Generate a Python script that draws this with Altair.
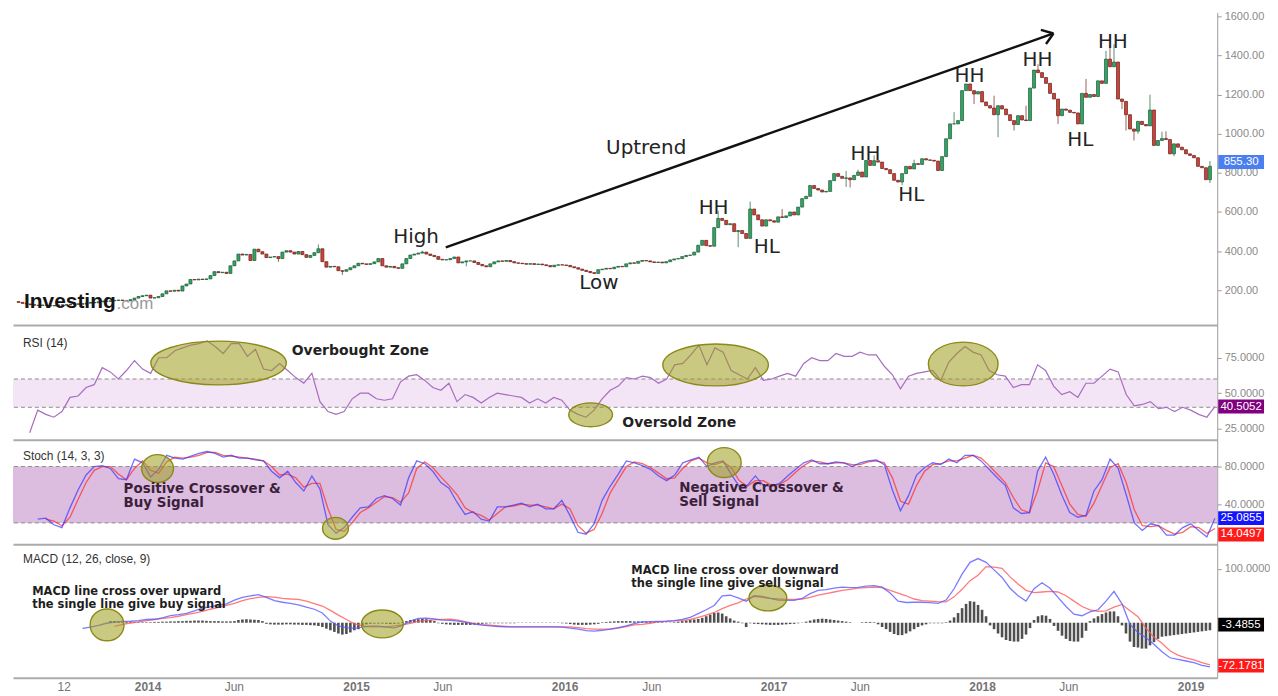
import altair as alt
import numpy as np
import pandas as pd

# ---------------- weekly candles ----------------
first_open = 142
close = [
 138,133,130,126,124,122,125,123,120,122,
 125,124,127,126,128,131,129,134,138,136,
 141,145,143,146,148,150,148,146,152,160,
 168,172,175,160,162,168,182,197,195,200,
 196,222,232,255,253,257,255,258,275,295,
 290,292,286,325,350,385,380,383,352,410,
 397,385,367,370,372,362,395,402,395,385,
 398,382,368,378,392,412,346,318,322,320,
 300,297,305,315,325,338,335,332,336,345,
 362,325,318,322,315,312,335,362,380,385,
 390,395,385,378,372,358,355,356,362,370,
 340,345,350,350,342,332,325,320,335,345,
 350,348,352,346,340,338,336,333,336,332,
 334,330,326,320,328,330,329,327,320,315,
 308,302,296,290,286,305,308,312,310,318,
 322,320,335,340,338,348,352,350,345,342,
 344,340,346,355,360,362,372,378,380,395,
 430,455,428,425,520,567,557,535,540,500,
 505,490,465,615,585,560,528,560,555,548,
 575,572,580,600,585,625,668,680,735,720,
 712,702,705,760,796,782,772,774,765,787,
 804,779,863,838,862,855,822,816,796,762,
 753,796,833,820,847,843,872,866,864,860,
 812,883,974,1050,1050,1067,1220,1254,1220,1203,
 1215,1162,1143,1131,1097,1143,1126,1097,1067,1047,
 1092,1070,1067,1233,1325,1312,1287,1257,1206,1177,
 1092,1126,1120,1109,1106,1050,1206,1186,1200,1190,
 1270,1257,1381,1342,1366,1177,1165,1097,1024,1013,
 1063,1047,1040,1121,940,965,975,970,897,948,
 931,918,897,889,877,833,826,765,833,
]
hi_idx = [75, 101, 175, 183, 191, 207, 210, 214, 224, 234, 244, 252, 255, 267, 272, 273, 274, 283, 286, 287, 298]
hi_val = [434, 402, 607, 653, 615, 810, 816, 889, 867, 1110, 1194, 1143, 1355, 1280, 1423, 1447, 1457, 1199, 1010, 1012, 860]
lo_idx = [65, 81, 112, 180, 207, 208, 221, 239, 245, 249, 260, 276, 277, 279, 280, 289, 298]
lo_val = [345, 278, 322, 420, 728, 725, 737, 1152, 982, 1016, 1050, 1126, 1016, 965, 999, 885, 748]

# ---------------- indicators (every second week) ----------------
N_ = None
rsi = [
 N_,N_,22,38,35,33,37,47,48,54,
 56,68,65,60,66,73,67,64,75,75,
 80,82,84,85,87,83,78,85,85,76,
 81,67,66,71,66,61,57,64,44,37,
 35,37,46,50,50,46,45,46,58,62,
 63,59,54,52,57,44,49,47,43,47,
 50,49,48,47,43,46,43,47,45,38,
 35,33,38,46,52,55,61,60,62,61,
 57,60,70,71,77,84,70,82,79,66,
 63,60,68,59,60,62,64,62,71,75,
 73,73,78,76,76,79,77,77,69,63,
 53,62,64,65,66,59,72,78,83,79,
 77,66,63,62,54,56,56,70,66,55,
 49,51,47,57,57,62,67,65,49,41,
 42,44,39,40,37,40,38,35,33,40.5,
]
stoch_k = [
 N_,N_,N_,24,25,18,15,36,55,71,
 80,81,78,67,66,88,84,69,77,92,
 89,88,91,94,96,94,90,92,89,89,
 87,86,75,68,75,63,54,70,56,18,
 9,15,26,36,37,46,49,46,39,68,
 86,83,75,63,57,42,29,32,24,22,
 37,37,39,41,37,40,35,35,44,28,
 10,8,19,44,59,72,86,84,81,77,
 70,65,71,84,87,90,80,84,86,72,
 59,60,70,60,59,62,70,77,84,87,
 83,83,85,84,80,84,86,87,82,55,
 33,49,71,79,84,82,88,84,92,92,
 86,77,68,60,36,30,31,75,90,72,
 50,31,26,28,54,66,88,78,50,20,
 12,19,17,7,7,15,19,12,5,25,
]
stoch_d = [
 N_,N_,N_,N_,24,22,17,26,45,63,
 76,80,80,72,66,78,86,76,73,85,
 90,89,90,92,95,95,92,91,90,89,
 88,86,80,71,72,68,58,62,62,35,
 13,11,20,31,36,42,48,47,42,52,
 78,85,79,69,60,50,36,31,28,23,
 30,37,38,40,39,39,37,35,40,35,
 17,9,13,30,52,66,80,85,83,79,
 73,67,68,78,86,89,84,82,85,79,
 65,59,65,65,60,61,66,74,81,86,
 85,83,84,84,82,82,85,86,84,68,
 43,40,60,75,82,83,86,86,89,92,
 89,81,72,63,47,34,31,54,84,80,
 60,40,29,27,41,60,79,83,63,34,
 17,16,17,12,8,10,16,15,9,14,
]
macd = [
 N_,N_,N_,N_,N_,N_,N_,N_,-10.5,-8,
 -5,-1,1,2.5,2.7,4,6,6.4,9,13,
 15,17.5,22,27,30,32,35,42,47,50,
 52,47,41,38,36,33,29,25,18,3,
 -6,-9,-10.5,-8,-6.5,-6.5,-8,-9.5,-5,3,
 8,8.5,7,5,4.5,3,0.5,-2.5,-4.5,-6,
 -7,-7.8,-7.8,-7.8,-7.8,-7.8,-7.8,-7.8,-8,-10,
 -12,-14.5,-15.5,-14,-12,-9,-6,-1.5,1.5,2,
 2.5,3,4,6,10,17,24,32,50,51,
 46,40,50,49,45,42,41.5,41.5,45,54,
 60,61.5,64,66,65,65.5,68,69,66,55,
 40,37.5,38,38,37.2,36,42,63,90,112,
 119,112,98,84,64,50,40,63,74,64,
 47,30,16,13,20,24,40,58,35,-3,
 -18,-28,-40,-54,-65,-68,-71,-74,-79,-82,
]
signal = [
 N_,N_,N_,N_,N_,N_,N_,N_,N_,N_,
 N_,N_,-7,-3,-0.5,1.5,4,6,8,9.5,
 12,15,18,21,25,28.5,32,36,41,44.5,
 47,48.5,47.5,45,44,43.5,40,35.5,31,23,
 14,6,-2,-6,-7.8,-7.8,-7.8,-6,-4,-1,
 2.5,4.5,5.5,6.3,6.4,5,1.5,-1.5,-3.5,-4.7,
 -6,-7,-7.8,-7.8,-7.8,-7.8,-7.8,-7.8,-7.8,-7.8,
 -9,-11,-12,-12,-12,-10,-7,-4,-3,-1,
 1.5,2.5,3.5,4.3,6,10,14,19,26,32,
 37,44,49,47,45,44,43.3,43.3,44,47,
 51,54,57,60,62,64,65,66,65,60,
 55,50,44,41,40,39,38.5,48,62,78,
 88,104,103,101,85,72,60,56,57,58,
 57,50,40,30,24,21,22,29,34,22,
 11,-10,-27,-38,-52,-60,-65,-69,-74,-78,
]
# weekly histogram
hist = [
 N_,N_,N_,N_,N_,N_,N_,N_,N_,N_,
 N_,N_,N_,N_,N_,N_,N_,N_,N_,N_,
 N_,N_,N_,3,3,2.5,2,1.5,1.5,1,
 1,1,1,1,1.5,1.5,2,2,2.5,2.5,
 3,3,3.5,3.5,4,4,4,3.5,3,3,
 3,2.5,2.5,2.5,3,5,6,6.5,6,5.5,
 5,3,-2,-3,-3.5,-3.5,-3.5,-3,-3,-3.5,
 -3.5,-4,-4,-4.5,-5,-6,-8,-11,-14,-17,
 -20,-22,-21,-18,-14,-12,-6,-3,-2,-1.5,
 -1.5,-1.5,-2,-2.5,-2,-1.5,1,3,5,6,
 6.5,7,6.5,5,3,-1,-2,-3,-3.5,-4,
 -4,-4,-4,-4,-3.5,-3,-2,-1.5,-1,-1,
 -1,-1,-1,-1,-1,-0.5,-0.5,-0.5,-0.5,-0.5,
 -0.5,-0.5,-0.5,-0.5,-0.5,-0.5,-1,-1.5,-2.5,-3.5,
 -4,-4,-4,-3.5,-3,-2,1,1.5,2,2.5,
 3,3,3,3,2.5,2.5,2.5,2,2,1.5,
 1,1,0.5,0.5,1,2,3,4,5,6,
 7,9,12,15,18,19,17,12,8,4,
 2,-1,-8,-1,-2,-2.5,-3,-3.5,-4,-4,
 -4,-3.5,-3,-2.5,-2,-1,0.5,2,4,6,
 7,7.5,7,6,5,4,3,2,1,0,
 0,1,1.5,1.5,1,-3,-8,-12,-17,-21,
 -23,-23,-20,-16,-12,-8,-5,-3,-1,-1,
 -1,-1,1,4,10,18,27,35,40,39,
 33,24,12,-5,-12,-20,-27,-32,-34,-35,
 -35,-30,-22,-10,5,12,14,13,7,-6,
 -15,-24,-30,-34,-35,-35,-28,-15,3,8,
 12,16,19,21,21,12,-5,-20,-35,-45,
 -46,-48,-48,-42,-36,-30,-26,-25,-24,-23,
 -22,-21,-20,-19,-18,-17,-16,-15,-14,
]

# last-value tags
price_last_label = ["855.30"]; price_last_val = [855.3]
rsi_last_label = ["40.5052"]; rsi_last_val = [40.5052]
stoch_last_label = ["25.0855", "14.0497"]; stoch_last_val = [25.0855, 14.0497]
macd_last_label = ["-3.4855", "-72.1781"]; macd_last_val = [-3.4855, -72.1781]

# axis ticks
price_ticks = [200, 400, 600, 800, 1000, 1200, 1400, 1600]
rsi_ticks = [25, 50, 75]
stoch_ticks = [40, 80]
macd_ticks = [100]
x_tick_dates = ["2013-08-07", "2014-01-01", "2014-06-01", "2015-01-01", "2015-06-01", "2016-01-01",
                "2016-06-01", "2017-01-01", "2017-06-01", "2018-01-01", "2018-06-01", "2019-01-01"]

# annotations
price_note_text = ["High", "Uptrend", "Low", "HH", "HL", "HH", "HL", "HH", "HH", "HL", "HH"]
price_note_date = ["2015-04-16", "2016-05-23", "2016-03-01", "2016-09-18", "2016-12-20", "2017-06-11",
                   "2017-08-30", "2017-12-10", "2018-04-08", "2018-06-22", "2018-08-18"]
price_note_val = [470, 928, 236, 618, 419, 897, 689, 1294, 1376, 969, 1468]
arrow_seg = ["a", "a", "b", "b", "c", "c"]
arrow_date = ["2015-06-07", "2018-05-06", "2018-04-14", "2018-05-06", "2018-04-23", "2018-05-06"]
arrow_val = [419, 1512, 1530, 1512, 1458, 1512]

rsi_ell_date = ["2014-05-11", "2016-02-16", "2016-09-20", "2017-11-24"]
rsi_ell_val = [71.3, 34.7, 69.9, 70.6]
rsi_ell_rx = [68, 22, 53, 35]
rsi_ell_ry = [22, 12, 21, 22]
stoch_ell_date = ["2014-01-25", "2014-11-30", "2016-10-05"]
stoch_ell_val = [77.9, 14.2, 84.2]
stoch_ell_rx = [16, 13, 17]
stoch_ell_ry = [14, 11, 15]
macd_ell_date = ["2013-10-22", "2015-02-16", "2016-12-22"]
macd_ell_val = [-4, -2.2, 45.9]
macd_ell_rx = [17, 21, 19]
macd_ell_ry = [16, 14, 13]

rsi_note_text = ["Overbought Zone", "Oversold Zone"]
rsi_note_date = ["2014-09-15", "2016-04-11"]
rsi_note_val = [79.8, 29.1]
stoch_note_text = ["Positive Crossover &", "Buy Signal", "Negative Crossover &", "Sell Signal"]
stoch_note_date = ["2013-11-27", "2013-11-27", "2016-07-19", "2016-07-19"]
stoch_note_val = [55.6, 40.8, 56.7, 41.8]
macd_note_text = ["MACD line cross over upward", "the single line give buy signal",
                  "MACD line cross over downward", "the single line give sell signal"]
macd_note_date = ["2013-06-13", "2013-06-13", "2016-04-27", "2016-04-27"]
macd_note_val = [56.9, 32.9, 95.7, 71.7]


def fit(lst, n):
    lst = list(lst)[:n]
    return lst + [None] * (n - len(lst))


# ---------------- frames ----------------
N = len(close)
dates = pd.date_range("2013-05-20", periods=N, freq="7D")
opens = [first_open] + close[:-1]
highs = [max(o, c) for o, c in zip(opens, close)]
lows = [min(o, c) for o, c in zip(opens, close)]
for i, v in zip(hi_idx, hi_val):
    highs[i] = max(highs[i], v)
for i, v in zip(lo_idx, lo_val):
    lows[i] = min(lows[i], v)
candles = pd.DataFrame({"date": dates, "open": opens, "close": close, "high": highs, "low": lows})
candles["dir"] = np.where(candles["close"] >= candles["open"], "up", "down")

bdates = dates[::2]
nb = len(bdates)
ind = pd.DataFrame({"date": bdates, "rsi": fit(rsi, nb), "k": fit(stoch_k, nb), "d": fit(stoch_d, nb),
                    "macd": fit(macd, nb), "sig": fit(signal, nb)}).astype({"rsi": float, "k": float, "d": float, "macd": float, "sig": float})
hist_df = pd.DataFrame({"date": dates, "h": fit(hist, N)}).astype({"h": float}).dropna()


def dt(s):
    y, m, d = [int(p) for p in s.split("-")]
    return alt.DateTime(year=y, month=m, date=d)


def ell_path(r):
    k = 0.5523
    return (f"M-1,0C-1,{-k*r:.4f},{-k:.4f},{-r:.4f},0,{-r:.4f}C{k:.4f},{-r:.4f},1,{-k*r:.4f},1,0"
            f"C1,{k*r:.4f},{k:.4f},{r:.4f},0,{r:.4f}C{-k:.4f},{r:.4f},-1,{k*r:.4f},-1,0Z")


def ell_df(ds, vs, rx, ry):
    return pd.DataFrame({"date": pd.to_datetime(ds), "v": vs,
                         "path": [ell_path(b / a) for a, b in zip(rx, ry)],
                         "sz": [4 * a * a for a in rx]})


def note_df(ds, vs, ts):
    return pd.DataFrame({"date": pd.to_datetime(ds), "v": vs, "t": ts})


# ---------------- layout / styles ----------------
W = 1209
HP, HR, HS, HM = 314, 115, 105, 134
TAG_X = 1233

xscale = alt.Scale(domain=[dt("2013-05-19"), dt("2019-02-08")], nice=False)
ax_sep = alt.Axis(labels=False, ticks=False, grid=False, title=None, domain=True,
                  domainColor="#ababab", domainWidth=2)
ax_bottom = alt.Axis(values=[dt(s) for s in x_tick_dates],
                     labelExpr="month(datum.value) == 0 ? timeFormat(datum.value, '%Y') : (month(datum.value) == 5 ? 'Jun' : '12')",
                     labelFontWeight={"condition": {"test": "month(datum.value) == 0", "value": "bold"}, "value": "normal"},
                     ticks=False, tickSize=0, grid=False, title=None, domain=True,
                     domainColor="#ababab", domainWidth=2, labelColor="#747474",
                     labelFont="Liberation Sans", labelFontSize=12, labelPadding=4,
                     labelFlush=False, labelOverlap=False)
Xs = alt.X("date:T", scale=xscale, axis=ax_sep, title=None)
Xb = alt.X("date:T", scale=xscale, axis=ax_bottom, title=None)


def yax(vals, fmt):
    return alt.Axis(orient="right", values=vals, format=fmt, grid=False, title=None,
                    domain=True, domainColor="#9b9b9b", domainWidth=1,
                    ticks=True, tickColor="#9b9b9b", tickSize=4,
                    labelColor="#8a8a8a", labelFont="Liberation Sans", labelFontSize=11,
                    labelPadding=3, labelOverlap=False, labelFlush=False)


def mk_y(scale, axis):
    def f(field):
        return alt.Y(f"{field}:Q", scale=scale, axis=axis, title=None)
    return f


one = pd.DataFrame({"a": [0]})
ELL = dict(filled=True, fill="#9c9c1c", fillOpacity=0.55, stroke="#8a8a18", strokeWidth=1.4, opacity=1)


def ellipses(df, X, Y):
    return alt.Chart(df).mark_point(**ELL).encode(
        x=X, y=Y("v"), shape=alt.Shape("path:N", scale=None, legend=None),
        size=alt.Size("sz:Q", scale=None, legend=None))


def title_txt(t, y):
    return alt.Chart(one).mark_text(align="left", baseline="middle", font="Liberation Sans",
                                    fontSize=12, color="#333333").encode(
        x=alt.value(10), y=alt.value(y), text=alt.value(t))


def tags(labels, vals, colors, Y, offsets):
    layers = []
    for lab, v, c, off in zip(labels, vals, colors, offsets):
        d = pd.DataFrame({"v": [v], "t": [lab]})
        enc = dict(x=alt.value(TAG_X), y=Y("v"))
        if off:
            enc["yOffset"] = alt.value(off)
        layers.append(alt.Chart(d).mark_tick(orient="horizontal", size=46, thickness=14,
                                             color=c, opacity=1).encode(**enc))
        layers.append(alt.Chart(d).mark_text(color="white", font="Liberation Sans", fontSize=11.5,
                                             baseline="middle").encode(text="t:N", **enc))
    return layers


# ---------------- price panel ----------------
Yp = mk_y(alt.Scale(domain=[22, 1620], nice=False, zero=False), yax(price_ticks, ".2f"))
fill_sc = alt.Scale(domain=["up", "down"], range=["#34a465", "#c9453b"])
line_sc = alt.Scale(domain=["up", "down"], range=["#1d5a37", "#6b1e17"])
wicks = alt.Chart(candles).mark_rule(strokeWidth=1, opacity=0.7).encode(
    x=Xs, y=Yp("low"), y2=alt.Y2("high"), color=alt.Color("dir:N", scale=line_sc, legend=None))
bodies = alt.Chart(candles).mark_bar(size=3, strokeWidth=0.7).encode(
    x=Xs, y=Yp("open"), y2=alt.Y2("close"),
    fill=alt.Fill("dir:N", scale=fill_sc, legend=None),
    stroke=alt.Stroke("dir:N", scale=line_sc, legend=None))
arrow = alt.Chart(pd.DataFrame({"date": pd.to_datetime(arrow_date), "v": arrow_val, "seg": arrow_seg})).mark_line(
    color="#111111", strokeWidth=2.4).encode(x=Xs, y=Yp("v"), detail="seg:N")
pnotes = alt.Chart(note_df(price_note_date, price_note_val, price_note_text)).mark_text(
    font="DejaVu Sans", fontSize=20, color="#242424", baseline="middle").encode(x=Xs, y=Yp("v"), text="t:N")
logo1 = alt.Chart(one).mark_text(align="left", baseline="middle", font="Liberation Sans", fontSize=21,
                                 fontWeight="bold", color="#151515").encode(
    x=alt.value(11), y=alt.value(291), text=alt.value("Investing"))
logo2 = alt.Chart(one).mark_text(align="left", baseline="middle", font="Liberation Sans", fontSize=17,
                                 color="#9a9a9a").encode(x=alt.value(104), y=alt.value(293), text=alt.value(".com"))
price = alt.layer(wicks, bodies, arrow, pnotes, logo1, logo2,
                  *tags(price_last_label, price_last_val, ["#4b7ff0"], Yp, [0])).properties(width=W, height=HP)

# ---------------- RSI panel ----------------
Yr = mk_y(alt.Scale(domain=[17.13, 98.09], nice=False, zero=False), yax(rsi_ticks, ".4f"))
rband = alt.Chart(pd.DataFrame({"lo": [40], "hi": [60]})).mark_rect(color="#f3e5f5").encode(
    x=alt.value(0), x2=alt.value(W), y=Yr("hi"), y2=alt.Y2("lo"))
rdash = alt.Chart(pd.DataFrame({"v": [40, 60]})).mark_rule(color="#8c8c8c", strokeDash=[4, 3], strokeWidth=1).encode(y=Yr("v"))
rline = alt.Chart(ind.dropna(subset=["rsi"])).mark_line(color="#a86cc1", strokeWidth=1.2).encode(x=Xs, y=Yr("rsi"))
rell = ellipses(ell_df(rsi_ell_date, rsi_ell_val, rsi_ell_rx, rsi_ell_ry), Xs, Yr)
rnotes = alt.Chart(note_df(rsi_note_date, rsi_note_val, rsi_note_text)).mark_text(
    align="left", baseline="middle", font="DejaVu Sans", fontSize=14, fontWeight="bold", color="#222222").encode(
    x=Xs, y=Yr("v"), text="t:N")
rsi_p = alt.layer(rband, rdash, rline, rell, rnotes, title_txt("RSI (14)", 18),
                  *tags(rsi_last_label, rsi_last_val, ["#800080"], Yr, [0])).properties(width=W, height=HR)

# ---------------- Stoch panel ----------------
Ys = mk_y(alt.Scale(domain=[-2.74, 108.66], nice=False, zero=False), yax(stoch_ticks, ".4f"))
sband = alt.Chart(pd.DataFrame({"lo": [20], "hi": [80]})).mark_rect(color="#dcbcdf").encode(
    x=alt.value(0), x2=alt.value(W), y=Ys("hi"), y2=alt.Y2("lo"))
sdash = alt.Chart(pd.DataFrame({"v": [20, 80]})).mark_rule(color="#8c8c8c", strokeDash=[4, 3], strokeWidth=1).encode(y=Ys("v"))
dline = alt.Chart(ind.dropna(subset=["d"])).mark_line(color="#ff3030", strokeWidth=1.3, opacity=0.75).encode(x=Xs, y=Ys("d"))
kline = alt.Chart(ind.dropna(subset=["k"])).mark_line(color="#3535ff", strokeWidth=1.3, opacity=0.7).encode(x=Xs, y=Ys("k"))
sell = ellipses(ell_df(stoch_ell_date, stoch_ell_val, stoch_ell_rx, stoch_ell_ry), Xs, Ys)
snotes = alt.Chart(note_df(stoch_note_date, stoch_note_val, stoch_note_text)).mark_text(
    align="left", baseline="middle", font="DejaVu Sans", fontSize=13.5, fontWeight="bold", color="#3b1f3b").encode(
    x=Xs, y=Ys("v"), text="t:N")
stoch_p = alt.layer(sband, sdash, dline, kline, sell, snotes, title_txt("Stoch (14, 3, 3)", 16),
                    *tags(stoch_last_label, stoch_last_val, ["#1414ff", "#ff1a1a"], Ys, [0, 6])).properties(width=W, height=HS)

# ---------------- MACD panel ----------------
Ym = mk_y(alt.Scale(domain=[-102.0, 145.6], nice=False, zero=False), yax(macd_ticks, ".4f"))
hbars = alt.Chart(hist_df).mark_bar(size=2.6, color="#4f4f4f").encode(x=Xb, y=Ym("h"), y2=alt.datum(0))
sigline = alt.Chart(ind.dropna(subset=["sig"])).mark_line(color="#ff5a5a", strokeWidth=1.3, opacity=0.8).encode(x=Xb, y=Ym("sig"))
macdline = alt.Chart(ind.dropna(subset=["macd"])).mark_line(color="#5a5aff", strokeWidth=1.3, opacity=0.8).encode(x=Xb, y=Ym("macd"))
mell = ellipses(ell_df(macd_ell_date, macd_ell_val, macd_ell_rx, macd_ell_ry), Xb, Ym)
mnotes = alt.Chart(note_df(macd_note_date, macd_note_val, macd_note_text)).mark_text(
    align="left", baseline="middle", font="DejaVu Sans", fontSize=11.5, fontWeight="bold", color="#1e1e1e").encode(
    x=Xb, y=Ym("v"), text="t:N")
macd_p = alt.layer(hbars, sigline, macdline, mell, mnotes, title_txt("MACD (12, 26, close, 9)", 15),
                   *tags(macd_last_label, macd_last_val, ["#000000", "#ff1a1a"], Ym, [0, 4])).properties(width=W, height=HM)

chart = alt.vconcat(price, rsi_p, stoch_p, macd_p, spacing=0, bounds="flush").properties(
    padding={"left": 4, "top": 0, "right": 0, "bottom": 0}
).configure_view(stroke=None)

chart.save("out.html", embed_options={"renderer": "svg", "actions": False})
